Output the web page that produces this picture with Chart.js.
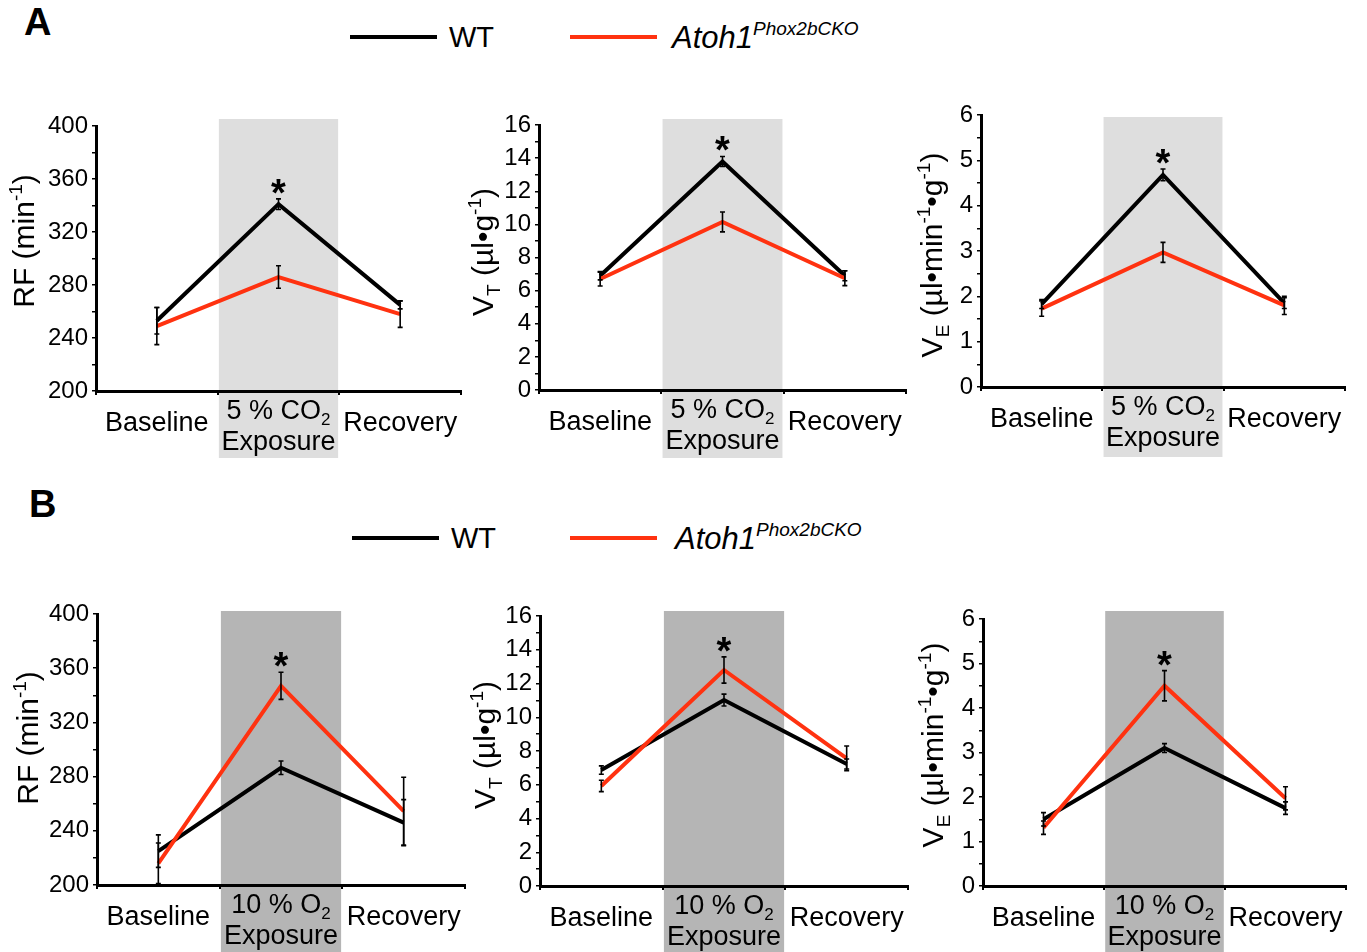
<!DOCTYPE html>
<html>
<head>
<meta charset="utf-8">
<script src="https://cdn.jsdelivr.net/npm/chart.js@4.4.1/dist/chart.umd.min.js"></script>
<style>
  body { margin:0; background:#fff; width:1367px; height:952px; position:relative; overflow:hidden;
         font-family:'Liberation Sans', Arial, sans-serif; color:#000; }
  canvas { position:absolute; }
  .tag { position:absolute; font-weight:bold; font-size:38px; line-height:1; }
  .leg { position:absolute; height:4px; width:87px; }
  .lt { position:absolute; font-size:29px; line-height:1; white-space:nowrap; }
  .it { font-size:31px; }
  .lt span { font-size:19px; position:relative; top:-13px; }
</style>
</head>
<body>
<div class="tag" style="left:24px;top:3px">A</div>
<div class="leg" style="left:350px;top:35px;background:#000"></div>
<div class="lt" style="left:449px;top:23px">WT</div>
<div class="leg" style="left:570px;top:35px;background:#ff3210"></div>
<div class="lt it" style="left:672px;top:22px;font-style:italic">Atoh1<span>Phox2bCKO</span></div>

<div class="tag" style="left:29px;top:485px">B</div>
<div class="leg" style="left:352px;top:536px;background:#000"></div>
<div class="lt" style="left:451px;top:524px">WT</div>
<div class="leg" style="left:570px;top:536px;background:#ff3210"></div>
<div class="lt it" style="left:675px;top:523px;font-style:italic">Atoh1<span>Phox2bCKO</span></div>

<canvas id="a1"></canvas><canvas id="a2"></canvas><canvas id="a3"></canvas>
<canvas id="b1"></canvas><canvas id="b2"></canvas><canvas id="b3"></canvas>

<script>
var FONT = "'Liberation Sans', Arial, sans-serif";
var RED = '#ff3210';

// categories
var categoriesCO2 = ['Baseline', ['5 % CO₂', 'Exposure'], 'Recovery'];
var categoriesO2 = ['Baseline', ['10 % O₂', 'Exposure'], 'Recovery'];

// A: 5 % CO2
var rfCO2WT = [253, 341, 265];
var rfCO2WTErr = [10, 4, 3];
var rfCO2CKO = [249, 286, 258];
var rfCO2CKOErr = [14, 8.5, 10];

var vtCO2WT = [6.9, 13.8, 6.9];
var vtCO2WTErr = [0.25, 0.3, 0.3];
var vtCO2CKO = [6.7, 10.15, 6.75];
var vtCO2CKOErr = [0.42, 0.6, 0.45];

var veCO2WT = [1.83, 4.68, 1.85];
var veCO2WTErr = [0.1, 0.13, 0.12];
var veCO2CKO = [1.73, 2.97, 1.8];
var veCO2CKOErr = [0.17, 0.22, 0.2];

// B: 10 % O2
var rfO2WT = [225, 286.5, 246];
var rfO2WTErr = [12, 5, 17];
var rfO2CKO = [216, 347, 254.5];
var rfO2CKOErr = [15, 10, 25];

var vtO2WT = [6.87, 11.02, 7.23];
var vtO2WTErr = [0.25, 0.35, 0.3];
var vtO2CKO = [5.93, 12.8, 7.57];
var vtO2CKOErr = [0.34, 0.78, 0.73];

var veO2WT = [1.5, 3.1, 1.75];
var veO2WTErr = [0.15, 0.1, 0.14];
var veO2CKO = [1.31, 4.5, 1.97];
var veO2CKOErr = [0.15, 0.34, 0.26];

// y axis ranges / tick steps
var rfTicks = [200, 400, 40];
var vtTicks = [0, 16, 2];
var veTicks = [0, 6, 1];

var titleRF = [['RF (min', ''], ['-1', 'sup'], [')', '']];
var titleVT = [['V', ''], ['T', 'sub'], [' (µl•g', ''], ['-1', 'sup'], [')', '']];
var titleVE = [['V', ''], ['E', 'sub'], [' (µl•min', ''], ['-1', 'sup'], ['•g', ''], ['-1', 'sup'], [')', '']];

// layout (page pixels): plot area [left, top, right, bottom], band top/bottom, title baseline x / centre y
var panels = [
  {id:'a1', labels:categoriesCO2, wt:rfCO2WT, wtErr:rfCO2WTErr, cko:rfCO2CKO, ckoErr:rfCO2CKOErr, ticks:rfTicks, title:titleRF,
   band:'#dedede', area:[96,126,461,391], bandY:[119,458], titleX:34, titleY:241},
  {id:'a2', labels:categoriesCO2, wt:vtCO2WT, wtErr:vtCO2WTErr, cko:vtCO2CKO, ckoErr:vtCO2CKOErr, ticks:vtTicks, title:titleVT,
   band:'#dedede', area:[539,125,906,390], bandY:[119,458], titleX:493, titleY:252},
  {id:'a3', labels:categoriesCO2, wt:veCO2WT, wtErr:veCO2WTErr, cko:veCO2CKO, ckoErr:veCO2CKOErr, ticks:veTicks, title:titleVE,
   band:'#dedede', area:[981,115,1345,387], bandY:[117,457], titleX:942, titleY:255},
  {id:'b1', labels:categoriesO2, wt:rfO2WT, wtErr:rfO2WTErr, cko:rfO2CKO, ckoErr:rfO2CKOErr, ticks:rfTicks, title:titleRF,
   band:'#b5b5b5', area:[97,614,465,885], bandY:[611,952], titleX:38, titleY:738},
  {id:'b2', labels:categoriesO2, wt:vtO2WT, wtErr:vtO2WTErr, cko:vtO2CKO, ckoErr:vtO2CKOErr, ticks:vtTicks, title:titleVT,
   band:'#b5b5b5', area:[540,616,908,886], bandY:[611,952], titleX:495, titleY:745},
  {id:'b3', labels:categoriesO2, wt:veO2WT, wtErr:veO2WTErr, cko:veO2CKO, ckoErr:veO2CKOErr, ticks:veTicks, title:titleVE,
   band:'#b5b5b5', area:[983,619,1346,886], bandY:[611,952], titleX:943, titleY:745}
];

var SUBS = '₀₁₂₃₄₅₆₇₈₉';

function toSegs(str) {
  var segs = [], cur = '';
  for (var i = 0; i < str.length; i++) {
    var k = SUBS.indexOf(str[i]);
    if (k >= 0) {
      if (cur) segs.push([cur, '']);
      segs.push([String(k), 'sub']);
      cur = '';
    } else cur += str[i];
  }
  if (cur) segs.push([cur, '']);
  return segs;
}

function segFont(s, size) {
  return (s[1] ? Math.round(size * 0.62) : size) + 'px ' + FONT;
}

function richWidth(ctx, segs, size) {
  var w = 0;
  segs.forEach(function (s) {
    ctx.font = segFont(s, size);
    w += ctx.measureText(s[0]).width;
  });
  return w;
}

function drawRich(ctx, segs, size, x, y) {
  segs.forEach(function (s) {
    ctx.font = segFont(s, size);
    var dy = s[1] === 'sup' ? -size * 0.4 : (s[1] === 'sub' ? size * 0.22 : 0);
    ctx.fillText(s[0], x, y + dy);
    x += ctx.measureText(s[0]).width;
  });
}

function makeFigPlugin(p, left, top) {
  return {
    id: 'fig_' + p.id,
    beforeDraw: function (chart) {
      var ctx = chart.ctx, xs = chart.scales.x;
      var step = xs.getPixelForValue(1) - xs.getPixelForValue(0);
      var cx = xs.getPixelForValue(1);
      ctx.save();
      ctx.fillStyle = p.band;
      ctx.fillRect(cx - step * 0.49, p.bandY[0] - top, step * 0.98, p.bandY[1] - p.bandY[0]);
      ctx.restore();
    },
    afterDatasetsDraw: function (chart) {
      var ctx = chart.ctx, xs = chart.scales.x, ys = chart.scales.y;
      ctx.save();
      ctx.strokeStyle = '#000';
      ctx.lineWidth = 1.6;
      chart.data.datasets.forEach(function (ds) {
        ds.data.forEach(function (v, i) {
          var e = ds.errors[i];
          var x = xs.getPixelForValue(i);
          var y1 = ys.getPixelForValue(v + e), y2 = ys.getPixelForValue(v - e);
          ctx.beginPath();
          ctx.moveTo(x, y1); ctx.lineTo(x, y2);
          ctx.moveTo(x - 2.5, y1); ctx.lineTo(x + 2.5, y1);
          ctx.moveTo(x - 2.5, y2); ctx.lineTo(x + 2.5, y2);
          ctx.stroke();
        });
      });
      // significance star over exposure
      var hi = Math.max(p.wt[1] + p.wtErr[1], p.cko[1] + p.ckoErr[1]);
      var sy = ys.getPixelForValue(hi) - 15;
      ctx.fillStyle = '#000';
      ctx.font = 'bold 38px ' + FONT;
      ctx.textAlign = 'center';
      ctx.textBaseline = 'alphabetic';
      ctx.fillText('*', xs.getPixelForValue(1), sy + 22);
      ctx.restore();
    },
    afterDraw: function (chart) {
      var ctx = chart.ctx, xs = chart.scales.x, area = chart.chartArea;
      ctx.save();
      ctx.fillStyle = '#000';
      ctx.textAlign = 'left';
      ctx.textBaseline = 'alphabetic';
      // category labels
      chart.data.labels.forEach(function (lab, i) {
        var x = xs.getPixelForValue(i);
        var lines = Array.isArray(lab) ? lab : [lab];
        var base = lines.length === 1 ? [40] : [28, 59];
        lines.forEach(function (line, j) {
          var segs = toSegs(line);
          var w = richWidth(ctx, segs, 27);
          drawRich(ctx, segs, 27, x - w / 2, area.bottom + base[j]);
        });
      });
      // y title
      ctx.translate(p.titleX - left, p.titleY - top);
      ctx.rotate(-Math.PI / 2);
      var tw = richWidth(ctx, p.title, 30);
      drawRich(ctx, p.title, 30, -tw / 2, 0);
      ctx.restore();
    }
  };
}

Chart.defaults.font.family = FONT;
Chart.defaults.color = '#000';

panels.forEach(function (p) {
  var cv = document.getElementById(p.id);
  var left = p.area[0] - 100, top = p.area[1] - 30;
  var w = p.area[2] - p.area[0] + 110, h = p.area[3] - p.area[1] + 30 + 80;
  cv.width = w; cv.height = h;
  cv.style.left = left + 'px'; cv.style.top = top + 'px';
  cv.style.width = w + 'px'; cv.style.height = h + 'px';
  var step = p.ticks[2];

  new Chart(cv.getContext('2d'), {
    type: 'line',
    data: {
      labels: p.labels,
      datasets: [
        { label: 'WT', data: p.wt, errors: p.wtErr, borderColor: '#000', borderWidth: 4, pointRadius: 0, tension: 0, order: 2 },
        { label: 'Atoh1 Phox2bCKO', data: p.cko, errors: p.ckoErr, borderColor: RED, borderWidth: 4, pointRadius: 0, tension: 0, order: 1 }
      ]
    },
    options: {
      responsive: false,
      animation: false,
      devicePixelRatio: 1,
      layout: { padding: { left: 0, top: 30, right: 10, bottom: 0 } },
      plugins: { legend: { display: false }, tooltip: { enabled: false } },
      scales: {
        x: {
          offset: true,
          border: { color: '#000', width: 3 },
          grid: { display: true, offset: true, drawOnChartArea: false, color: '#000', lineWidth: 2, tickLength: 4 },
          ticks: { display: false },
          afterFit: function (s) { s.height = 80; }
        },
        y: {
          min: p.ticks[0], max: p.ticks[1],
          border: { color: '#000', width: 3 },
          grid: { display: true, drawOnChartArea: false, color: '#000', lineWidth: 1.5, tickLength: 4 },
          ticks: {
            stepSize: step / 2, autoSkip: false, padding: 4, color: '#000', font: { size: 24 },
            callback: function (v) {
              var r = v / step;
              return Math.abs(r - Math.round(r)) < 1e-6 ? v : '';
            }
          },
          afterFit: function (s) { s.width = 100; }
        }
      }
    },
    plugins: [makeFigPlugin(p, left, top)]
  });
});
</script>
</body>
</html>
